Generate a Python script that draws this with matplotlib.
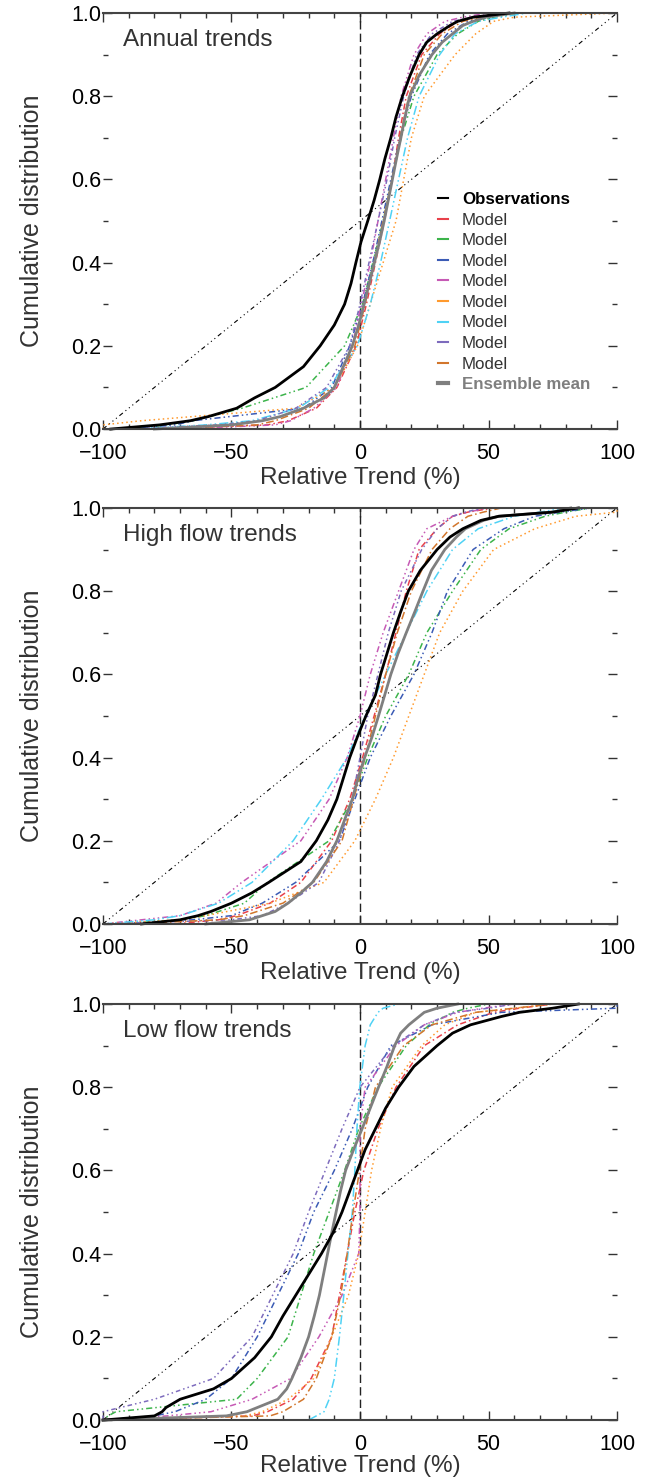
import matplotlib

matplotlib.use("Agg")
import matplotlib.pyplot as plt  # noqa: E402
from matplotlib.lines import Line2D  # noqa: E402
from matplotlib.ticker import MultipleLocator  # noqa: E402

plt.rcParams["font.family"] = ["Liberation Sans", "DejaVu Sans"]

CDF_LEVELS = [0, 0.01, 0.02, 0.05, 0.1, 0.2, 0.3, 0.4, 0.5, 0.6, 0.7, 0.8,
              0.9, 0.95, 0.98, 0.99, 1.0]
# finer levels for observations / ensemble mean
FINE_LEVELS = [0, 0.01, 0.02, 0.03, 0.05, 0.075, 0.1, 0.15, 0.2, 0.25, 0.3,
               0.35, 0.4, 0.45, 0.5, 0.55, 0.6, 0.65, 0.7, 0.75, 0.8, 0.85,
               0.9, 0.93, 0.95, 0.97, 0.98, 0.99, 1.0]

# --- annual trends
ANNUAL_OBS = [-97, -78, -66, -59, -48, -41, -33, -22, -15.5, -10, -6, -3.5,
              -1.6, 0.4, 3, 5.5, 7.7, 9.7, 12, 14, 16.5, 19.5, 23, 26, 30,
              35, 38, 44, 58]
ANNUAL_ENS = [-80, -50, -38, -31, -22, -14, -10, -6.5, -3, -0.5, 1.6, 3.6,
              5.6, 7.6, 9.4, 11, 12.6, 14.2, 15.9, 17.5, 19.3, 23, 28, 32, 36,
              40, 44, 49, 60]
ANNUAL_MODELS = [
    [-80, -36, -28, -17, -9, -1.5, 2.5, 6, 9.5, 12.5, 15, 18, 24, 31, 38, 45, 55],
    [-90, -75, -65, -46, -21, -6, 1, 5, 9, 12.5, 16, 21, 30, 38, 46, 52, 62],
    [-92, -72, -65, -22, -11, -4, 1, 5, 8.5, 12, 15.5, 20, 27, 34, 42, 50, 58],
    [-70, -33, -27, -18, -9, -3, 0.5, 4, 7, 10, 13, 16, 21, 26, 33, 40, 50],
    [-100, -100, -85, -25, -10, -1, 4, 9, 14, 17, 20, 25, 37, 45, 52, 60, 100],
    [-88, -60, -42, -24, -12, -1, 4, 8, 11.5, 15, 18.5, 23, 31, 37, 46, 55, 65],
    [-90, -55, -40, -25, -13, -4, 0, 3.5, 7, 10.5, 13.5, 17, 22, 28, 36, 44, 55],
    [-78, -40, -33, -20, -10, -2, 2, 5.5, 9, 12.5, 15.5, 19, 25, 32, 40, 47, 55],
]

# --- high flow trends
HIGH_OBS = [-85, -70, -63, -58, -50, -42, -35.5, -23, -17, -12.5, -9, -6.5,
            -4, -1, 2.3, 6, 8, 10.5, 13, 15.8, 18.8, 23.5, 30, 35, 40, 47,
            54, 75, 85]
HIGH_ENS = [-60, -43, -38, -33, -28, -23, -18.5, -13, -9, -6, -3, -0.8, 1.8,
            4.7, 7.2, 9.6, 12, 14.8, 18, 21.3, 24.5, 27.8, 33, 37.5, 41, 48,
            54, 75, 82]
HIGH_MODELS = [
    [-72, -55, -48, -35, -23, -11, -4, 1, 5.5, 10, 14, 18, 23, 30, 36, 42, 52],
    [-95, -70, -60, -45, -36, -12, -3, 3, 10, 19, 26, 36, 47, 58, 72, 80, 90],
    [-95, -65, -50, -38, -25, -8, -2, 4, 12, 21, 28, 34, 44, 56, 68, 78, 90],
    [-100, -85, -70, -56, -46, -23, -12, -5, 0, 4, 9, 15, 21, 26, 36, 42, 50],
    [-100, -70, -60, -35, -14, -2, 6, 13, 19, 25, 31, 40, 52, 68, 84, 100, 100],
    [-100, -80, -70, -55, -42, -26, -15, -5, 2, 10, 18, 26, 36, 46, 60, 70, 80],
    [-100, -50, -38, -28, -16, -8, -3, 0, 3, 7, 11, 16, 24, 30, 36, 41, 48],
    [-90, -55, -45, -30, -18, -7, -2.5, 2, 6, 10, 14.5, 20, 28, 35, 42, 48, 55],
]

# --- low flow trends
LOW_OBS = [-100, -80, -77, -75.5, -70, -57, -50, -41, -34.5, -30, -25, -20,
           -15, -10.5, -7, -4, -1, 2, 6, 10, 15, 21, 30, 36, 43, 55, 62, 75, 85]
LOW_ENS = [-100, -52, -44, -40, -32, -28.5, -26.5, -23, -20, -17.8, -15.8,
           -14.2, -12.6, -11, -9.3, -7.6, -5.6, -2.5, 0.8, 4, 7.2, 10.5, 13.5,
           15.8, 19, 23, 25, 30, 38]
LOW_MODELS = [
    [-100, -42, -36, -26, -19, -11, -8, -5, -2, 1.5, 7, 14, 25, 38, 52, 62, 75],
    [-100, -98, -95, -48, -40, -28, -23, -18, -12, -6, -0.5, 7, 18, 27, 36, 42, 50],
    [-100, -80, -72, -60, -50, -40, -32, -24, -18, -10, -3, 3, 12, 28, 55, 100, 100],
    [-100, -75, -58, -42, -27, -16, -7, -0.5, 0, 0, 0, 2, 14, 25, 38, 48, 60],
    [-100, -45, -38, -28, -18, -11, -4.5, -0.5, 2, 4.5, 8, 12.5, 24, 33, 45, 60, 75],
    [-20, -17, -14, -12, -10, -8, -6.3, -4.7, -3, -2, -1.2, -0.1, 2, 4, 7, 9, 15],
    [-100, -100, -100, -80, -57, -42, -34, -26, -20, -13.5, -7, 0, 13, 25, 37, 50, 60],
    [-100, -35, -30, -22, -17, -11, -7.5, -5, -2.7, -0.2, 2, 6, 17, 28, 45, 60, 75],
]

PANEL_TITLES = ["Annual trends", "High flow trends", "Low flow trends"]
MODEL_COLORS = ["#e8414a", "#3cb44b", "#3b5bb5", "#c65ab5",
                "#ff9a2e", "#4fd2f5", "#7d6bbd", "#d2762c"]
MODEL_STYLES = [
    (0, (4, 2, 1, 2)),
    (0, (1, 2, 1, 2, 4, 2)),
    (0, (4, 2, 1, 2, 1, 2)),
    (0, (1, 2, 1, 2, 1, 2, 4, 2)),
    (0, (1, 2)),
    (0, (6, 2, 1, 2, 1, 2)),
    (0, (3, 2, 1, 2, 1, 2)),
    (0, (5, 2, 1, 2)),
]
ENS_COLOR = "#7f7f7f"
LEGEND_LABELS = ["Observations"] + ["Model"] * 8 + ["Ensemble mean"]
TEXT_COLOR = "#333333"

panels = [
    (ANNUAL_OBS, ANNUAL_ENS, ANNUAL_MODELS),
    (HIGH_OBS, HIGH_ENS, HIGH_MODELS),
    (LOW_OBS, LOW_ENS, LOW_MODELS),
]
bottoms = [0.7101, 0.3757, 0.0405]

fig = plt.figure(figsize=(6.49, 14.8), dpi=100)
for i, ((obs, ens, models), title, b) in enumerate(zip(panels, PANEL_TITLES, bottoms)):
    ax = fig.add_axes([0.1587, b, 0.792, 0.2811])
    # 1:1 reference and zero line
    ax.plot([-100, 100], [0, 1], color="black", lw=0.8,
            ls=(0, (4, 3, 1, 3, 1, 3, 1, 3)))
    ax.axvline(0, color="#222222", lw=1.0, ls=(0, (6, 3)))
    for q, c, s in zip(models, MODEL_COLORS, MODEL_STYLES):
        ax.plot(q, CDF_LEVELS, color=c, ls=s, lw=1.1, clip_on=False)
    ax.plot(ens, FINE_LEVELS, color=ENS_COLOR, lw=2.0, clip_on=False)
    ax.plot(obs, FINE_LEVELS, color="black", lw=2.0, clip_on=False)

    ax.set_xlim(-100, 100)
    ax.set_ylim(0, 1)
    ax.xaxis.set_major_locator(MultipleLocator(50))
    ax.xaxis.set_minor_locator(MultipleLocator(10))
    ax.yaxis.set_major_locator(MultipleLocator(0.2))
    ax.yaxis.set_minor_locator(MultipleLocator(0.1))
    ax.yaxis.set_major_formatter(lambda v, _: f"{v:.1f}")
    ax.tick_params(which="both", direction="in", top=True, right=True,
                   labelsize=15.5, width=1.0, color="#333333")
    ax.tick_params(which="major", length=6.5)
    ax.tick_params(which="minor", length=3.3)
    ax.tick_params(axis="x", pad=10)
    ax.tick_params(axis="y", pad=1)
    for side in ("left", "right"):
        ax.spines[side].set_visible(False)
    for side in ("top", "bottom"):
        ax.spines[side].set_color("#444444")
        ax.spines[side].set_linewidth(1.5)

    ax.set_xlabel("Relative Trend (%)", fontsize=17.5, color=TEXT_COLOR,
                  labelpad=2 if i < 2 else 0)
    ax.set_ylabel("Cumulative distribution", fontsize=18, color=TEXT_COLOR, labelpad=20)
    ax.text(0.039, 0.935, title, transform=ax.transAxes, fontsize=17.5,
            color=TEXT_COLOR, va="center", ha="left")

    if i == 0:
        handles = [Line2D([], [], color="black", lw=1.5)]
        handles += [Line2D([], [], color=c, lw=1.5) for c in MODEL_COLORS]
        handles += [Line2D([], [], color=ENS_COLOR, lw=3)]
        leg = ax.legend(handles, LEGEND_LABELS, loc="upper left",
                        bbox_to_anchor=(0.652, 0.57), frameon=False,
                        fontsize=12.2, handlelength=0.6, handletextpad=0.8,
                        labelspacing=0.33, borderpad=0, borderaxespad=0)
        for k, t in enumerate(leg.get_texts()):
            if k == 0:
                t.set_color("black")
                t.set_fontweight("bold")
            elif k == len(LEGEND_LABELS) - 1:
                t.set_color(ENS_COLOR)
                t.set_fontweight("bold")
            else:
                t.set_color(TEXT_COLOR)

fig.savefig("out.png", dpi=100)
